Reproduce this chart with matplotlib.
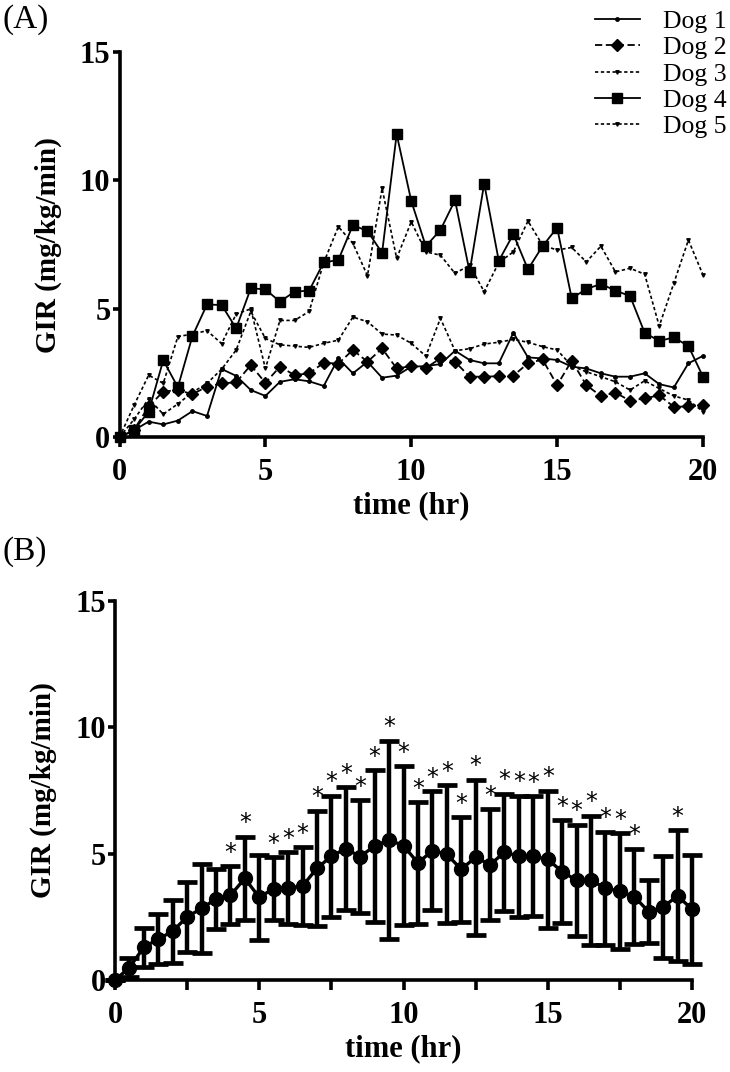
import numpy as np
import matplotlib
matplotlib.use("Agg")
import matplotlib.pyplot as plt
from matplotlib.font_manager import FontProperties

plt.rcParams['font.family'] = ['Liberation Serif', 'DejaVu Serif']

time_hr = [i * 0.5 for i in range(41)]

dog1 = [0, 0.28, 0.61, 0.5, 0.65, 1.02, 0.83, 2.66, 2.39, 1.84,
        1.61, 2.16, 2.26, 2.18, 2.0, 3.07, 2.49, 2.94, 2.32, 2.4,
        2.75, 2.77, 2.85, 3.37, 3.01, 2.88, 2.88, 4.07, 3.11, 3.07,
        3.01, 2.75, 2.68, 2.49, 2.36, 2.36, 2.49, 2.07, 1.94, 2.88,
        3.17]
dog2 = [0, 0.3, 1.2, 1.78, 1.84, 1.68, 1.97, 2.1, 2.14, 2.81,
        2.12, 2.75, 2.42, 2.49, 2.9, 2.87, 3.4, 2.94, 3.46, 2.68,
        2.77, 2.7, 3.07, 2.94, 2.36, 2.36, 2.38, 2.4, 2.88, 3.03,
        2.03, 2.98, 2.03, 1.61, 1.74, 1.42, 1.52, 1.63, 1.19, 1.2,
        1.24]
dog3 = [0, 0.7, 1.5, 0.9, 1.3, 1.75, 2.1, 2.65, 3.4, 4.9,
        3.85, 3.6, 3.55, 3.5, 3.66, 3.78, 4.68, 4.5, 4.02, 3.98,
        3.66, 3.16, 4.63, 3.37, 3.45, 3.63, 3.7, 3.81, 3.7, 3.53,
        3.4, 2.78, 2.55, 2.36, 2.16, 1.84, 2.2, 1.9, 1.61, 1.45,
        1.0]
dog4 = [0, 0.28, 1.0, 3.0, 1.95, 3.94, 5.17, 5.15, 4.24, 5.8,
        5.76, 5.28, 5.67, 5.71, 6.81, 6.9, 8.26, 8.03, 7.18, 11.8,
        9.2, 7.44, 8.07, 9.23, 6.44, 9.88, 6.87, 7.91, 6.54, 7.44,
        8.16, 5.41, 5.77, 5.97, 5.71, 5.5, 4.07, 3.75, 3.89, 3.55,
        2.36]
dog5 = [0, 1.25, 2.42, 2.1, 3.92, 4.02, 4.15, 3.65, 4.8, 5.0,
        2.68, 4.55, 4.55, 4.9, 6.8, 8.2, 7.55, 6.29, 9.69, 6.97,
        8.39, 7.22, 7.09, 6.38, 6.7, 5.67, 6.8, 7.22, 8.42, 7.48,
        7.29, 7.39, 6.83, 7.44, 6.44, 6.58, 6.35, 4.33, 6.0, 7.68,
        6.32]

gir_mean = [0, 0.49, 1.3, 1.62, 1.93, 2.5, 2.83, 3.21, 3.35, 4.02,
            3.27, 3.62, 3.64, 3.72, 4.42, 4.9, 5.2, 4.88, 5.31, 5.54,
            5.32, 4.63, 5.12, 4.98, 4.38, 4.86, 4.56, 5.06, 4.9, 4.9,
            4.77, 4.29, 3.94, 3.95, 3.63, 3.52, 3.3, 2.7, 2.89, 3.33,
            2.8]
gir_sd = [0, 0.39, 0.77, 1.0, 1.25, 1.38, 1.78, 1.2, 1.15, 1.65,
          1.69, 1.25, 1.42, 1.53, 2.28, 2.4, 2.42, 2.23, 3.0, 3.93,
          3.15, 2.4, 2.35, 2.73, 2.07, 3.07, 2.19, 2.32, 2.4, 2.37,
          2.73, 2.03, 2.2, 2.56, 2.24, 2.3, 1.89, 1.24, 2.03, 2.59,
          2.16]
sig_times = [4, 4.5, 5.5, 6, 6.5, 7, 7.5, 8, 8.5, 9, 9.5, 10, 10.5, 11, 11.5,
             12, 12.5, 13, 13.5, 14, 14.5, 15, 15.5, 16, 16.5, 17, 17.5, 18, 19.5]

dog_labels = ["Dog 1", "Dog 2", "Dog 3", "Dog 4", "Dog 5"]

W, H = 730, 1072
fig = plt.figure(figsize=(W / 100, H / 100), dpi=100)
axA = fig.add_axes([119.5 / W, 1 - 437.3 / H, 583.5 / W, 385.3 / H])
axB = fig.add_axes([115 / W, 1 - 980 / H, 577 / W, 379 / H])

tick_fp = FontProperties(family='Liberation Serif', weight='bold', size=22)


def style_axis(ax):
    for s in ['top', 'right']:
        ax.spines[s].set_visible(False)
    for s in ['left', 'bottom']:
        ax.spines[s].set_linewidth(2.6)
    ax.set_xlim(0, 20)
    ax.set_ylim(0, 15)
    ax.set_xticks([0, 5, 10, 15, 20])
    ax.set_yticks([0, 5, 10, 15])
    ax.tick_params(axis='x', which='both', length=7, width=2.6, direction='out', pad=8)
    ax.tick_params(axis='y', which='major', length=5, width=2.6, direction='out', pad=1.5)
    for lab in ax.get_xticklabels() + ax.get_yticklabels():
        lab.set_fontproperties(tick_fp)
    ax.set_xlabel("time (hr)", fontsize=22, fontweight='bold', labelpad=3)
    ax.set_ylabel("GIR (mg/kg/min)", fontsize=21, fontweight='bold', labelpad=13)


# panel A
styles = [
    dict(ls='-', marker='o', ms=2.5, lw=1.3),
    dict(ls=(0, (4, 2)), marker='D', ms=6.5, lw=1.3),
    dict(ls=(0, (2, 1.5)), marker='v', ms=2.5, lw=1.2),
    dict(ls='-', marker='s', ms=7.5, lw=1.3),
    dict(ls=(0, (2, 1.5)), marker='v', ms=2.5, lw=1.2),
]
for vals, lab, st in zip([dog1, dog2, dog3, dog4, dog5], dog_labels, styles):
    axA.plot(time_hr, vals, color='black', label=lab, clip_on=False, zorder=3, **st)
style_axis(axA)
leg = axA.legend(loc='upper left', bbox_to_anchor=(595 / W, 1 - 10 / H),
                 bbox_transform=fig.transFigure, frameon=False, fontsize=18.5,
                 handlelength=1.75, handletextpad=0.9, labelspacing=0.13,
                 borderpad=0, borderaxespad=0)

# panel B
axB.errorbar(time_hr, gir_mean, yerr=gir_sd, color='black', lw=2.4, marker='o',
             ms=10, elinewidth=3.2, capsize=7.5, capthick=3.4, clip_on=False, zorder=3)
style_axis(axB)
axB.set_xticks([2.5, 7.5, 12.5, 17.5], minor=True)
for t in sig_times:
    i = time_hr.index(t)
    axB.annotate("*", xy=(t, gir_mean[i] + gir_sd[i]), xytext=(0, 1),
                 textcoords='offset points', ha='center', va='bottom',
                 fontsize=17, family='DejaVu Sans')

fig.text(2 / W, 1 - 20 / H, "(A)", fontsize=24, va='center', ha='left')
fig.text(2 / W, 1 - 552 / H, "(B)", fontsize=24, va='center', ha='left')

fig.savefig("out.png", dpi=100)
